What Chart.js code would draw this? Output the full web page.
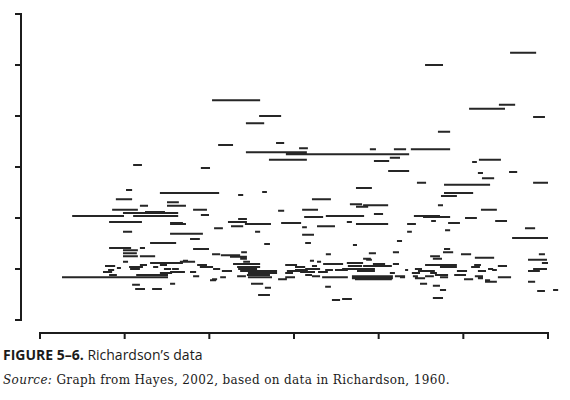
<!DOCTYPE html>
<html>
<head>
<meta charset="utf-8">
<script src="https://cdn.jsdelivr.net/npm/chart.js@4.4.0/dist/chart.umd.min.js"></script>
<style>
  body { margin: 0; background: #fff; width: 570px; height: 400px; overflow: hidden; position: relative; }
  #wrap { position: absolute; left: 0; top: 0; width: 570px; height: 345px; }
  .fig { position: absolute; left: 3px; top: 346px; font-family: "Open Sans", sans-serif; font-size: 14px; line-height: 18px; color: #1b1b1b; white-space: nowrap; }
  .fig b { font-weight: 700; }
  .src { position: absolute; left: 3px; top: 372px; font-family: "DejaVu Serif", serif; font-size: 12px; letter-spacing: 0.35px; line-height: 16px; color: #1b1b1b; white-space: nowrap; }
</style>
</head>
<body>
<div id="wrap"><canvas id="wars"></canvas></div>
<div class="fig"><b>FIGURE 5–6.</b> Richardson’s data</div>
<div class="src"><i>Source:</i> Graph from Hayes, 2002, based on data in Richardson, 1960.</div>
<script>
// each war: start year, end year, magnitude (log10 of deaths)
var warStart = [
  1938.8, 1913.7, 1850.8, 1926.7, 1935.5, 1864.7, 1945.6, 1860.8, 1917.5, 1869.7,
  1852.6, 1876.5, 1897.4, 1904.5, 1909.5, 1860.8, 1872.6, 1903.3, 1867.6, 1898.6,
  1927.6, 1929.6, 1827.5, 1847.5, 1902.8, 1929.3, 1938.5, 1930.5, 1911.3, 1919.3,
  1945.6, 1893.3, 1825.4, 1865.6, 1835.4, 1919.3, 1858.5, 1918.4, 1822.4, 1880.3,
  1837.5, 1891.5, 1895.4, 1917.5, 1829.5, 1837.5, 1893.3, 1821.3, 1845.2, 1877.4,
  1930.2, 1870.3, 1831.0, 1824.5, 1898.6, 1809.5, 1827.5, 1847.5, 1884.4, 1910.4,
  1878.0, 1913.1, 1925.5, 1858.5, 1915.5, 1934.4, 1820.4, 1838.4, 1855.5, 1871.2,
  1890.6, 1920.5, 1838.4, 1860.5, 1893.3, 1908.4, 1856.4, 1881.8, 1877.4, 1851.4,
  1943.2, 1919.6, 1824.5, 1863.5, 1908.4, 1838.4, 1877.4, 1939.4, 1844.3, 1905.4,
  1878.3, 1832.5, 1866.2, 1892.4, 1820.4, 1829.5, 1919.3, 1845.2, 1824.5, 1919.0,
  1859.4, 1904.2, 1824.5, 1897.1, 1884.4, 1850.8, 1924.3, 1947.3, 1853.4, 1824.5,
  1829.5, 1915.2, 1856.1, 1928.4, 1859.1, 1916.0, 1895.4, 1896.3, 1944.1, 1879.7,
  1842.2, 1841.3, 1824.5, 1881.8, 1860.0, 1948.2, 1832.5, 1890.6, 1883.6, 1857.0,
  1898.3, 1904.2, 1846.4, 1835.4, 1829.5, 1872.4, 1913.7, 1918.1, 1928.2, 1819.2,
  1890.9, 1895.4, 1880.3, 1935.2, 1826.3, 1833.4, 1847.2, 1858.2, 1875.3, 1918.1,
  1927.3, 1822.7, 1826.6, 1836.6, 1839.0, 1851.1, 1858.5, 1878.3, 1889.2, 1910.7,
  1932.3, 1945.6, 1820.1, 1875.3, 1884.2, 1887.1, 1907.8, 1933.5, 1853.7, 1859.1,
  1872.9, 1893.6, 1911.6, 1923.1, 1929.3, 1944.1, 1818.6, 1838.4, 1841.3, 1844.3,
  1876.8, 1882.1, 1835.4, 1861.4, 1872.4, 1903.3, 1909.8, 1915.2, 1820.4, 1828.4,
  1861.1, 1878.3, 1916.6, 1922.3, 1845.2, 1858.2, 1880.3, 1892.1, 1904.8, 1910.1,
  1913.7, 1928.4, 1806.5, 1853.2, 1861.4, 1872.4, 1883.3, 1906.3, 1918.1, 1935.2,
  1929.3, 1892.1, 1910.7, 1870.3, 1893.0, 1925.2, 1850.8, 1850.2, 1931.4, 1932.9,
  1931.4, 1944.1, 1838.4, 1862.3, 1912.2, 1827.2, 1916.0, 1884.2, 1866.4, 1828.1,
  1833.1, 1918.1, 1951.5, 1946.8, 1864.4, 1916.0, 1889.2, 1886.2
];
var warEnd = [
  1946.5, 1919.0, 1865.0, 1937.3, 1940.3, 1871.2, 1949.1, 1866.2, 1921.1, 1872.1,
  1857.0, 1879.1, 1899.2, 1908.1, 1921.1, 1878.8, 1909.0, 1906.3, 1878.8, 1903.1,
  1929.0, 1936.1, 1830.1, 1850.2, 1909.0, 1930.8, 1940.9, 1934.1, 1914.0, 1932.9,
  1950.0, 1898.0, 1827.2, 1867.0, 1852.9, 1927.9, 1860.0, 1923.1, 1827.2, 1885.9,
  1841.0, 1895.1, 1902.8, 1919.0, 1831.9, 1843.1, 1896.9, 1828.9, 1849.3, 1882.1,
  1934.9, 1872.1, 1836.9, 1840.8, 1901.3, 1824.8, 1840.8, 1849.9, 1895.7, 1918.1,
  1883.6, 1921.1, 1929.0, 1861.1, 1916.9, 1937.9, 1830.1, 1842.2, 1861.1, 1877.1,
  1892.1, 1924.0, 1843.1, 1868.2, 1902.8, 1911.0, 1860.0, 1887.1, 1878.8, 1854.0,
  1946.2, 1921.1, 1827.2, 1865.0, 1909.8, 1848.1, 1880.9, 1950.0, 1847.2, 1906.9,
  1880.0, 1840.2, 1867.9, 1893.6, 1826.9, 1831.0, 1921.1, 1849.9, 1828.9, 1922.0,
  1861.1, 1906.0, 1828.6, 1899.2, 1885.9, 1853.2, 1927.3, 1949.1, 1859.1, 1828.9,
  1834.0, 1918.1, 1861.1, 1934.1, 1861.1, 1918.7, 1897.7, 1898.0, 1949.7, 1880.9,
  1843.7, 1845.8, 1826.0, 1883.0, 1862.0, 1950.0, 1842.2, 1895.4, 1889.5, 1865.0,
  1901.9, 1906.0, 1849.3, 1837.5, 1831.6, 1875.9, 1918.1, 1923.1, 1930.2, 1822.2,
  1895.1, 1903.9, 1881.8, 1937.9, 1830.4, 1834.9, 1851.1, 1865.0, 1878.3, 1923.1,
  1929.9, 1823.9, 1829.5, 1838.7, 1841.0, 1853.2, 1864.1, 1882.7, 1898.9, 1912.8,
  1933.8, 1949.7, 1821.9, 1879.1, 1886.5, 1890.9, 1908.7, 1934.9, 1856.7, 1870.0,
  1876.8, 1898.9, 1916.6, 1926.1, 1931.7, 1947.6, 1821.3, 1842.2, 1842.8, 1846.1,
  1881.2, 1885.0, 1839.0, 1870.0, 1874.7, 1904.8, 1912.2, 1917.2, 1822.7, 1837.8,
  1867.9, 1880.3, 1920.5, 1925.8, 1847.0, 1860.8, 1882.7, 1904.2, 1907.8, 1911.6,
  1916.3, 1930.8, 1837.8, 1854.9, 1868.5, 1875.3, 1890.9, 1907.8, 1920.5, 1939.1,
  1930.8, 1904.2, 1913.7, 1872.9, 1903.9, 1927.9, 1852.3, 1852.0, 1932.9, 1934.9,
  1932.9, 1946.2, 1839.9, 1865.9, 1914.3, 1829.5, 1918.1, 1885.9, 1868.2, 1831.0,
  1836.0, 1919.9, 1953.0, 1949.1, 1867.9, 1919.0, 1892.1, 1888.6
];
var warMagnitude = [
  7.24, 7.00, 6.31, 6.14, 6.22, 6.00, 5.98, 5.86, 5.69, 5.47,
  5.43, 5.37, 5.35, 5.35, 5.35, 5.29, 5.25, 5.18, 5.14, 5.12,
  5.10, 5.14, 5.04, 4.98, 4.92, 4.88, 4.90, 4.78, 4.69, 4.65,
  4.69, 4.59, 4.55, 4.51, 4.49, 4.49, 4.45, 4.43, 4.37, 4.37,
  4.31, 4.27, 4.25, 4.25, 4.24, 4.24, 4.22, 4.16, 4.16, 4.16,
  4.16, 4.14, 4.12, 4.10, 4.08, 4.04, 4.04, 4.06, 4.04, 4.04,
  4.02, 4.02, 4.00, 3.98, 3.94, 3.94, 3.92, 3.90, 3.92, 3.90,
  3.92, 3.90, 3.88, 3.88, 3.88, 3.88, 3.84, 3.84, 3.82, 3.80,
  3.80, 3.76, 3.73, 3.73, 3.73, 3.69, 3.67, 3.61, 3.59, 3.55,
  3.51, 3.51, 3.49, 3.47, 3.41, 3.41, 3.39, 3.39, 3.37, 3.33,
  3.33, 3.33, 3.31, 3.31, 3.29, 3.29, 3.29, 3.29, 3.27, 3.25,
  3.25, 3.25, 3.24, 3.22, 3.20, 3.20, 3.20, 3.18, 3.18, 3.16,
  3.16, 3.14, 3.14, 3.14, 3.14, 3.12, 3.12, 3.12, 3.10, 3.10,
  3.10, 3.10, 3.08, 3.08, 3.08, 3.08, 3.08, 3.08, 3.08, 3.06,
  3.06, 3.06, 3.06, 3.06, 3.04, 3.04, 3.04, 3.04, 3.04, 3.04,
  3.04, 3.02, 3.00, 3.00, 3.00, 3.00, 3.00, 3.00, 3.00, 3.00,
  3.00, 3.00, 2.98, 2.98, 2.98, 2.98, 2.98, 2.98, 2.96, 2.96,
  2.96, 2.96, 2.96, 2.96, 2.96, 2.96, 2.94, 2.94, 2.94, 2.94,
  2.94, 2.94, 2.92, 2.92, 2.92, 2.92, 2.92, 2.92, 2.88, 2.88,
  2.88, 2.88, 2.88, 2.88, 2.86, 2.86, 2.86, 2.86, 2.86, 2.86,
  2.86, 2.86, 2.84, 2.84, 2.84, 2.84, 2.84, 2.84, 2.84, 2.84,
  2.82, 2.82, 2.82, 2.80, 2.80, 2.80, 2.80, 2.78, 2.78, 2.75,
  2.75, 2.75, 2.71, 2.71, 2.71, 2.69, 2.67, 2.65, 2.63, 2.61,
  2.61, 2.59, 2.59, 2.57, 2.49, 2.43, 2.41, 2.39
];
var yearTicks = [1800, 1825, 1850, 1875, 1900, 1925, 1950];
var magnitudeTicks = [2, 3, 4, 5, 6, 7, 8];

// one line per war, broken by a null point
var segments = [];
warStart.forEach(function (s, i) {
  segments.push({x: s, y: warMagnitude[i]});
  segments.push({x: warEnd[i], y: warMagnitude[i]});
  segments.push({x: warEnd[i], y: null});
});

// detached axes (range frame), drawn from the chart's scales
var rangeFrame = {
  id: 'rangeFrame',
  afterDraw: function (chart) {
    var ctx = chart.ctx, x = chart.scales.x, y = chart.scales.y;
    var axisX = x.left - 19;
    var axisY = y.bottom + 13;
    ctx.save();
    ctx.strokeStyle = '#1c1c1c';
    ctx.lineWidth = 2;
    ctx.beginPath();
    ctx.moveTo(axisX, y.getPixelForValue(magnitudeTicks[magnitudeTicks.length - 1]) - 1);
    ctx.lineTo(axisX, y.getPixelForValue(magnitudeTicks[0]) + 1);
    magnitudeTicks.forEach(function (v) {
      var py = y.getPixelForValue(v);
      ctx.moveTo(axisX - 6, py);
      ctx.lineTo(axisX, py);
    });
    ctx.moveTo(x.getPixelForValue(yearTicks[0]) - 1, axisY);
    ctx.lineTo(x.getPixelForValue(yearTicks[yearTicks.length - 1]) + 1, axisY);
    yearTicks.forEach(function (v) {
      var px = x.getPixelForValue(v);
      ctx.moveTo(px, axisY);
      ctx.lineTo(px, axisY + 6);
    });
    ctx.stroke();
    ctx.restore();
  }
};

new Chart(document.getElementById('wars'), {
  type: 'scatter',
  data: {
    datasets: [{
      data: segments,
      showLine: true,
      spanGaps: false,
      borderColor: '#262626',
      borderWidth: 2,
      pointRadius: 0,
      pointHoverRadius: 0,
      tension: 0,
      clip: false
    }]
  },
  options: {
    responsive: true,
    maintainAspectRatio: false,
    animation: false,
    layout: { padding: { left: 40, right: 22, top: 14, bottom: 25 } },
    scales: {
      x: { type: 'linear', min: 1800, max: 1950, display: false },
      y: { type: 'linear', min: 2, max: 8, display: false }
    },
    plugins: { legend: { display: false }, tooltip: { enabled: false } }
  },
  plugins: [rangeFrame]
});
</script>
</body>
</html>
